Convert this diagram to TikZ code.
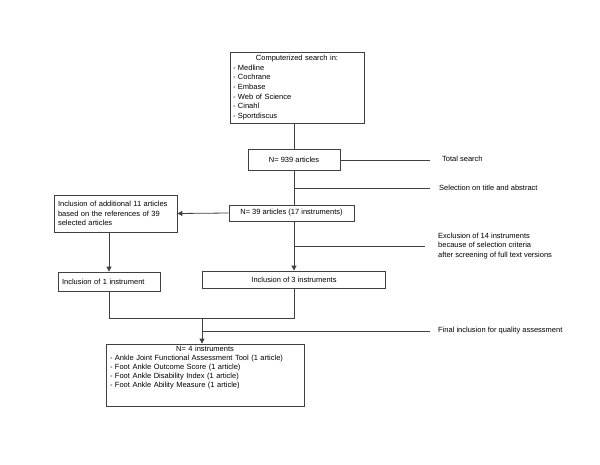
\documentclass[tikz,border=0pt]{standalone}
\usepackage{fontspec}
\setmainfont{Liberation Sans}
\usetikzlibrary{arrows.meta}
\begin{document}
\begin{tikzpicture}[x=1pt,y=1pt,
  font=\fontsize{7.5}{9.6}\selectfont,
  box/.style={draw=black!75, line width=0.8pt, rectangle, inner sep=0pt},
  conn/.style={draw=black!75, line width=0.8pt},
  arr/.style={conn, -{Triangle[length=5pt,width=5pt]}},
  lbl/.style={anchor=west, align=left, inner sep=0pt}]
\useasboundingbox (0,0) rectangle (600,-464);
% boxes
\node[box, minimum width=134pt, minimum height=71pt, text width=128pt, align=left] (top) at (297,-87.5)
  {\makebox[\linewidth]{Computerized search in:}\\- Medline\\- Cochrane\\- Embase\\- Web of Science\\- Cinahl\\- Sportdiscus};
\node[box, minimum width=92pt, minimum height=21pt] (n939) at (294,-160) {N= 939 articles};
\node[box, minimum width=125pt, minimum height=16pt] (n39) at (291.5,-213) {N= 39 articles (17 instruments)};
\node[box, minimum width=123pt, minimum height=37pt, text width=115pt, align=left] (add) at (115.5,-213.5)
  {Inclusion of additional 11 articles\\based on the references of 39\\selected articles};
\node[box, minimum width=102pt, minimum height=19pt, text width=94pt, align=left] (inc1) at (109,-281.5) {Inclusion of 1 instrument};
\node[box, minimum width=183pt, minimum height=17pt] (inc3) at (294,-279.5) {Inclusion of 3 instruments};
\node[box, minimum width=198pt, minimum height=62pt, text width=190pt, align=left,
  font=\fontsize{7.5}{9}\selectfont] (n4) at (205,-375)
  {\makebox[\linewidth]{N= 4 instruments}\\- Ankle Joint Functional Assessment Tool (1 article)\\- Foot Ankle Outcome Score (1 article)\\- Foot Ankle Disability Index (1 article)\\- Foot Ankle Ability Measure (1 article)\\[7pt]\mbox{}};
% coordinates
\coordinate (tse) at (430,-160);
\coordinate (s1) at (294,-188);
\coordinate (s1e) at (430,-188);
\coordinate (ex) at (294,-246);
\coordinate (exe) at (425,-246);
\coordinate (j1) at (109,-318);
\coordinate (j2) at (294,-318);
\coordinate (j3) at (202,-318);
\coordinate (fi) at (202,-331);
\coordinate (fie) at (430,-331);
% connectors
\draw[conn] (n939.north |- top.south) -- (n939.north);
\draw[conn] (n939.south) -- (n939.south |- n39.north);
\draw[conn] (n939.east) -- (tse);
\draw[conn] (s1) -- (s1e);
\draw[arr] (n39.west) -- (add.east);
\draw[arr] (n939.south |- n39.south) -- (inc3.north);
\draw[conn] (ex) -- (exe);
\draw[arr] (inc1.north |- add.south) -- (inc1.north);
\draw[conn] (inc1.south) -- (j1) -- (j2) -- (inc3.south);
\draw[arr] (j3) -- (j3 |- n4.north);
\draw[conn] (fi) -- (fie);
% labels
\node[lbl] (l1) at (442,-159) {Total search};
\node[lbl] (l2) at (439,-188) {Selection on title and abstract};
\node[lbl] (l3) at (438,-246) {Exclusion of 14 instruments\\because of selection criteria\\after screening of full text versions};
\node[lbl] (l4) at (438,-331) {Final inclusion for quality assessment};
\end{tikzpicture}
\end{document}
